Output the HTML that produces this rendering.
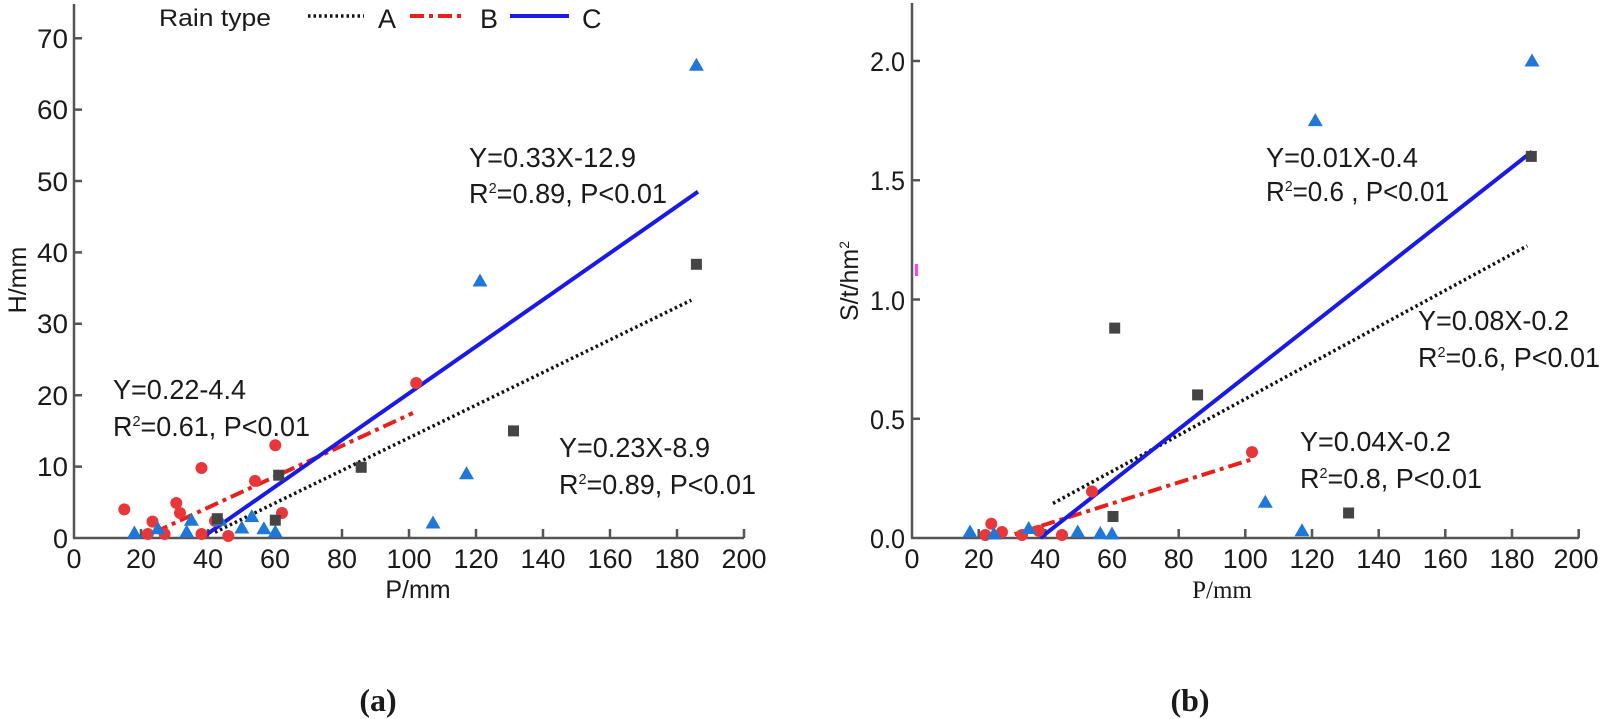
<!DOCTYPE html>
<html><head><meta charset="utf-8"><style>
html,body{margin:0;padding:0;background:#fff;}
svg{display:block;}
text{font-family:"Liberation Sans",sans-serif;fill:#1a1a1a;}
.t{font-size:27px;}
.eq{font-size:28px;}
</style></head><body>
<svg width="1600" height="719" viewBox="0 0 1600 719" xmlns="http://www.w3.org/2000/svg">
<defs>
<polygon id="tri" points="0,-7.5 7.5,5.5 -7.5,5.5" fill="#1f78d8"/>
<rect id="sq" x="-5.5" y="-5.5" width="11" height="11" fill="#444"/>
<circle id="ci" r="6" fill="#e8373a"/>
</defs>

<!-- ============ LEFT CHART ============ -->
<g stroke="#555" stroke-width="2.5" fill="none">
<line x1="74" y1="4" x2="74" y2="538"/>
<line x1="73" y1="538" x2="744" y2="538"/>
<path d="M74 466.6h8M74 395.2h8M74 323.8h8M74 252.4h8M74 181h8M74 109.6h8M74 38.2h8"/>
<path d="M141 538v-9M208 538v-9M275 538v-9M342 538v-9M409 538v-9M476 538v-9M543 538v-9M610 538v-9M677 538v-9M744 538v-9"/>
</g>
<g class="t" text-anchor="end">
<text x="68" y="548" textLength="15" lengthAdjust="spacingAndGlyphs">0</text>
<text x="68" y="476" textLength="31" lengthAdjust="spacingAndGlyphs">10</text>
<text x="68" y="405" textLength="31" lengthAdjust="spacingAndGlyphs">20</text>
<text x="68" y="333" textLength="31" lengthAdjust="spacingAndGlyphs">30</text>
<text x="68" y="262" textLength="31" lengthAdjust="spacingAndGlyphs">40</text>
<text x="68" y="191" textLength="31" lengthAdjust="spacingAndGlyphs">50</text>
<text x="68" y="119" textLength="31" lengthAdjust="spacingAndGlyphs">60</text>
<text x="68" y="48" textLength="31" lengthAdjust="spacingAndGlyphs">70</text>
</g>
<g class="t" text-anchor="middle">
<text x="74" y="568" textLength="15" lengthAdjust="spacingAndGlyphs">0</text>
<text x="141" y="568" textLength="30" lengthAdjust="spacingAndGlyphs">20</text>
<text x="208" y="568" textLength="30" lengthAdjust="spacingAndGlyphs">40</text>
<text x="275" y="568" textLength="30" lengthAdjust="spacingAndGlyphs">60</text>
<text x="342" y="568" textLength="30" lengthAdjust="spacingAndGlyphs">80</text>
<text x="409" y="568" textLength="45" lengthAdjust="spacingAndGlyphs">100</text>
<text x="476" y="568" textLength="45" lengthAdjust="spacingAndGlyphs">120</text>
<text x="543" y="568" textLength="45" lengthAdjust="spacingAndGlyphs">140</text>
<text x="610" y="568" textLength="45" lengthAdjust="spacingAndGlyphs">160</text>
<text x="677" y="568" textLength="45" lengthAdjust="spacingAndGlyphs">180</text>
<text x="744" y="568" textLength="45" lengthAdjust="spacingAndGlyphs">200</text>
</g>
<text x="418" y="598" text-anchor="middle" style="font-size:25px">P/mm</text>
<text transform="translate(26,280) rotate(-90)" text-anchor="middle" style="font-size:25px">H/mm</text>

<!-- legend -->
<text x="159" y="26" style="font-size:24px" textLength="112" lengthAdjust="spacingAndGlyphs">Rain type</text>
<line x1="308" y1="16" x2="364" y2="16" stroke="#111" stroke-width="3.5" stroke-dasharray="2.5 3"/>
<text x="378" y="28" style="font-size:27px">A</text>
<line x1="410" y1="16" x2="464" y2="16" stroke="#e8201c" stroke-width="4" stroke-dasharray="14 5 4 5"/>
<text x="480" y="28" style="font-size:27px">B</text>
<line x1="510" y1="16" x2="569" y2="16" stroke="#1a1ae6" stroke-width="4"/>
<text x="582" y="28" style="font-size:27px">C</text>

<!-- lines -->
<line x1="215" y1="532.3" x2="691.3" y2="300.2" stroke="#111" stroke-width="3.5" stroke-dasharray="2.5 3"/>
<line x1="154.5" y1="532.3" x2="412.9" y2="413" stroke="#e8201c" stroke-width="4" stroke-dasharray="14 5 4 5"/>
<line x1="201.5" y1="538" x2="698" y2="191.7" stroke="#1a1ae6" stroke-width="4"/>

<!-- points -->
<g>
<use href="#ci" x="124.3" y="509.4"/><use href="#ci" x="152.5" y="521.6"/><use href="#ci" x="176.3" y="503"/>
<use href="#ci" x="180" y="513"/><use href="#ci" x="201.5" y="468"/><use href="#ci" x="215" y="520.9"/>
<use href="#ci" x="255" y="480.9"/><use href="#ci" x="275.3" y="445.2"/><use href="#ci" x="282" y="513"/>
<use href="#ci" x="416.2" y="383"/><use href="#ci" x="147.8" y="534"/><use href="#ci" x="164.6" y="534"/>
<use href="#ci" x="201.5" y="534"/><use href="#ci" x="228.3" y="536"/>
<use href="#tri" x="134.4" y="533"/><use href="#tri" x="157.9" y="528.7"/><use href="#tri" x="191.4" y="520.2"/>
<use href="#tri" x="186.7" y="532"/><use href="#tri" x="220" y="520.2"/><use href="#tri" x="241.8" y="528"/>
<use href="#tri" x="251.8" y="516.6"/><use href="#tri" x="263.9" y="528.7"/><use href="#tri" x="275.3" y="532"/>
<use href="#tri" x="433" y="523"/><use href="#tri" x="466.5" y="473.7"/><use href="#tri" x="480" y="281"/>
<use href="#tri" x="696.4" y="65.3"/>
<use href="#sq" x="217.3" y="518.7"/><use href="#sq" x="275.3" y="520.2"/><use href="#sq" x="278.7" y="475.2"/>
<use href="#sq" x="361.2" y="467.3"/><use href="#sq" x="513.5" y="430.9"/><use href="#sq" x="696.4" y="264.3"/>
</g>

<!-- equations left -->
<g class="eq">
<text x="469" y="167" textLength="167" lengthAdjust="spacingAndGlyphs">Y=0.33X-12.9</text>
<text x="469" y="203" textLength="198" lengthAdjust="spacingAndGlyphs">R<tspan dy="-10" style="font-size:15px">2</tspan><tspan dy="10">=0.89, P&lt;0.01</tspan></text>
<text x="113" y="399" textLength="133" lengthAdjust="spacingAndGlyphs">Y=0.22-4.4</text>
<text x="113" y="436" textLength="197" lengthAdjust="spacingAndGlyphs">R<tspan dy="-10" style="font-size:15px">2</tspan><tspan dy="10">=0.61, P&lt;0.01</tspan></text>
<text x="559" y="457" textLength="151" lengthAdjust="spacingAndGlyphs">Y=0.23X-8.9</text>
<text x="559" y="494" textLength="197" lengthAdjust="spacingAndGlyphs">R<tspan dy="-10" style="font-size:15px">2</tspan><tspan dy="10">=0.89, P&lt;0.01</tspan></text>
</g>

<!-- ============ RIGHT CHART ============ -->
<g stroke="#555" stroke-width="2.5" fill="none">
<line x1="912" y1="3" x2="912" y2="538"/>
<line x1="911" y1="538" x2="1579" y2="538"/>
<path d="M912 418.75h8M912 299.5h8M912 180.25h8M912 61h8"/>
<path d="M978.7 538v-9M1045.3 538v-9M1112 538v-9M1178.7 538v-9M1245.3 538v-9M1312 538v-9M1378.7 538v-9M1445.3 538v-9M1512 538v-9M1578.7 538v-9"/>
</g>
<g class="t" text-anchor="end">
<text x="905" y="548" textLength="35" lengthAdjust="spacingAndGlyphs">0.0</text>
<text x="905" y="429" textLength="35" lengthAdjust="spacingAndGlyphs">0.5</text>
<text x="905" y="310" textLength="35" lengthAdjust="spacingAndGlyphs">1.0</text>
<text x="905" y="190" textLength="35" lengthAdjust="spacingAndGlyphs">1.5</text>
<text x="905" y="71" textLength="35" lengthAdjust="spacingAndGlyphs">2.0</text>
</g>
<g class="t" text-anchor="middle">
<text x="912" y="568" textLength="15" lengthAdjust="spacingAndGlyphs">0</text>
<text x="978.7" y="568" textLength="30" lengthAdjust="spacingAndGlyphs">20</text>
<text x="1045.3" y="568" textLength="30" lengthAdjust="spacingAndGlyphs">40</text>
<text x="1112" y="568" textLength="30" lengthAdjust="spacingAndGlyphs">60</text>
<text x="1178.7" y="568" textLength="30" lengthAdjust="spacingAndGlyphs">80</text>
<text x="1245.3" y="568" textLength="45" lengthAdjust="spacingAndGlyphs">100</text>
<text x="1312" y="568" textLength="45" lengthAdjust="spacingAndGlyphs">120</text>
<text x="1378.7" y="568" textLength="45" lengthAdjust="spacingAndGlyphs">140</text>
<text x="1445.3" y="568" textLength="45" lengthAdjust="spacingAndGlyphs">160</text>
<text x="1512" y="568" textLength="45" lengthAdjust="spacingAndGlyphs">180</text>
<text x="1576" y="568" textLength="45" lengthAdjust="spacingAndGlyphs">200</text>
</g>
<text x="1222" y="598" text-anchor="middle" style="font-family:'Liberation Serif',serif;font-size:25px">P/mm</text>
<text transform="translate(858,281) rotate(-90)" text-anchor="middle" style="font-size:25px">S/t/hm<tspan dy="-9" style="font-size:14px">2</tspan></text>
<rect x="915" y="264" width="3" height="12" fill="#ff40ff"/>

<line x1="1053" y1="503.4" x2="1527.3" y2="245.8" stroke="#111" stroke-width="3.5" stroke-dasharray="2.5 3"/>
<line x1="1014.7" y1="534.2" x2="1252" y2="459.3" stroke="#e8201c" stroke-width="4" stroke-dasharray="14 5 4 5"/>
<line x1="1040.3" y1="538" x2="1532" y2="151.6" stroke="#1a1ae6" stroke-width="4"/>

<g>
<use href="#ci" x="991.3" y="523.7"/><use href="#ci" x="985.3" y="535"/><use href="#ci" x="1002" y="532"/>
<use href="#ci" x="1038.7" y="530.8"/><use href="#ci" x="1062" y="535"/><use href="#ci" x="1092" y="491.5"/>
<use href="#ci" x="1252" y="452.1"/><use href="#ci" x="1022" y="535"/>
<use href="#tri" x="970" y="532"/><use href="#tri" x="994" y="534"/><use href="#tri" x="1028.7" y="528.5"/>
<use href="#tri" x="1077.7" y="532"/><use href="#tri" x="1100.3" y="533.5"/><use href="#tri" x="1112" y="534"/>
<use href="#tri" x="1265.3" y="502.2"/><use href="#tri" x="1302" y="530.8"/><use href="#tri" x="1315.3" y="120.6"/>
<use href="#tri" x="1532" y="61"/>
<use href="#sq" x="1113" y="516.5"/><use href="#sq" x="1114.7" y="328.1"/><use href="#sq" x="1197.6" y="394.9"/>
<use href="#sq" x="1348.6" y="513"/><use href="#sq" x="1531.3" y="156.4"/>
</g>

<g class="eq">
<text x="1266" y="167" textLength="152" lengthAdjust="spacingAndGlyphs">Y=0.01X-0.4</text>
<text x="1266" y="201" textLength="183" lengthAdjust="spacingAndGlyphs">R<tspan dy="-10" style="font-size:15px">2</tspan><tspan dy="10">=0.6 , P&lt;0.01</tspan></text>
<text x="1418" y="330" textLength="151" lengthAdjust="spacingAndGlyphs">Y=0.08X-0.2</text>
<text x="1418" y="367" textLength="182" lengthAdjust="spacingAndGlyphs">R<tspan dy="-10" style="font-size:15px">2</tspan><tspan dy="10">=0.6, P&lt;0.01</tspan></text>
<text x="1300" y="451" textLength="151" lengthAdjust="spacingAndGlyphs">Y=0.04X-0.2</text>
<text x="1300" y="488" textLength="182" lengthAdjust="spacingAndGlyphs">R<tspan dy="-10" style="font-size:15px">2</tspan><tspan dy="10">=0.8, P&lt;0.01</tspan></text>
</g>

<text x="378" y="711" text-anchor="middle" style="font-family:'Liberation Serif',serif;font-size:32px;font-weight:bold">(a)</text>
<text x="1190" y="711" text-anchor="middle" style="font-family:'Liberation Serif',serif;font-size:32px;font-weight:bold">(b)</text>
</svg>
</body></html>
